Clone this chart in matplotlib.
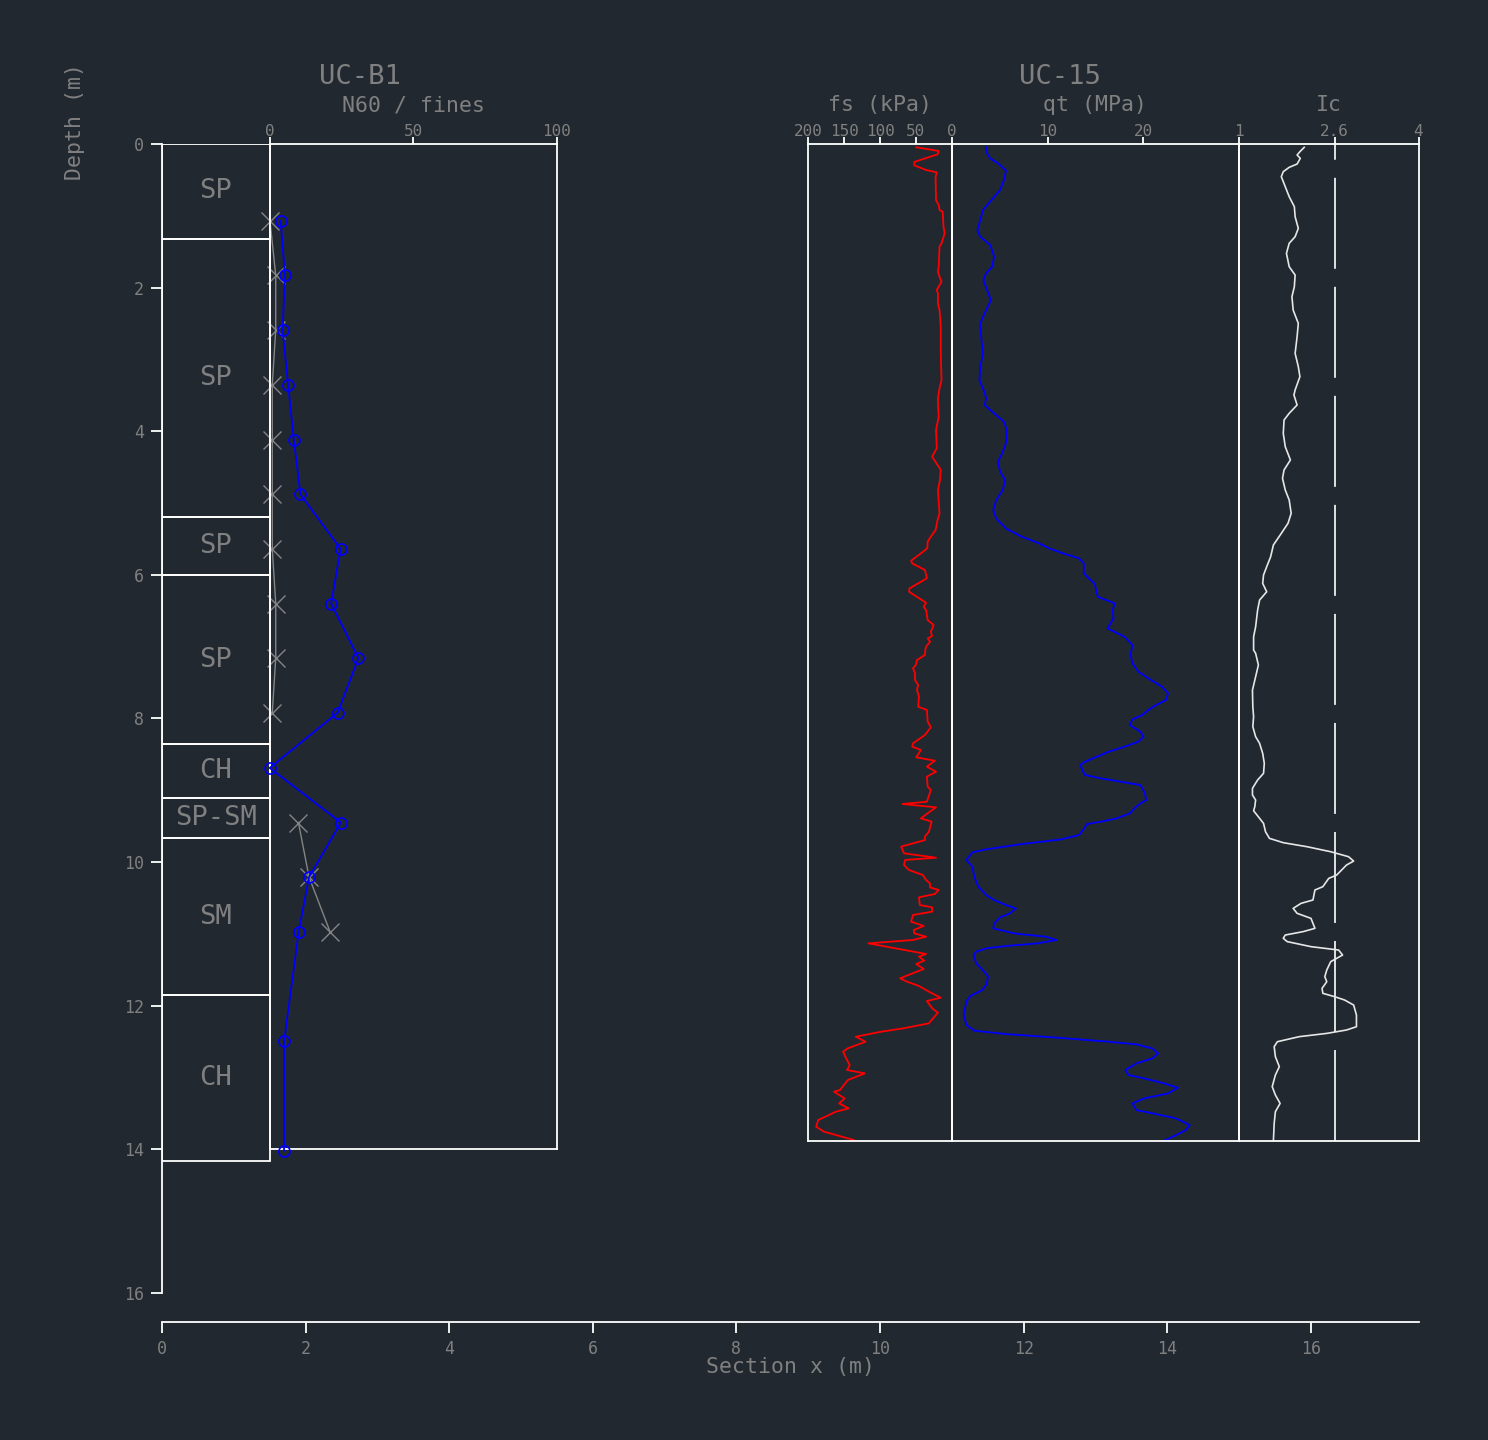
import numpy as np
import matplotlib.pyplot as plt
from matplotlib.patches import Rectangle

plt.rcParams['lines.scale_dashes'] = False

BG = '#212830'
LINE = 'white'
TXT = '#808080'
FONT = 'DejaVu Sans Mono'

# ---- boring UC-B1 ----
layer_top = [0.0, 1.32, 5.2, 6.0, 8.36, 9.11, 9.67, 11.85]
layer_bot = [1.32, 5.2, 6.0, 8.36, 9.11, 9.67, 11.85, 14.17]
layer_name = ['SP', 'SP', 'SP', 'SP', 'CH', 'SP-SM', 'SM', 'CH']

spt_depth = [1.07, 1.83, 2.59, 3.35, 4.12, 4.88, 5.64, 6.40, 7.16, 7.92,
             8.69, 9.45, 10.21, 10.97, 12.50, 14.02]
n60 = [3.8, 5.3, 4.5, 6.4, 8.4, 10.7, 24.7, 21.4, 30.9, 23.7,
       0.0, 24.8, 13.7, 10.1, 5.0, 5.0]
fines = [0.1, 2.1, 2.1, 0.9, 0.9, 0.9, 0.9, 2.1, 2.1, 0.9,
         np.nan, 10.0, 13.7, 21.0, np.nan, np.nan]

# ---- CPT UC-15 ----
fs_depth = [0.046, 0.097, 0.144, 0.25, 0.297, 0.362, 0.395, 0.455, 0.78, 0.85,
            0.92, 0.942, 1.151, 1.244, 1.383, 1.43, 1.709, 1.778, 1.848, 1.917,
            2.034, 2.08, 2.22, 2.312, 2.544, 2.916, 3.287, 3.403, 3.543, 3.612,
            3.798, 3.983, 4.238, 4.355, 4.494, 4.54, 4.68, 4.819, 5.144, 5.237,
            5.376, 5.469, 5.539, 5.631, 5.701, 5.803, 5.841, 5.933, 6.049, 6.12,
            6.19, 6.236, 6.389, 6.445, 6.491, 6.63, 6.7, 6.793, 6.853, 6.886,
            6.932, 7.002, 7.048, 7.117, 7.187, 7.256, 7.303, 7.372, 7.465, 7.535,
            7.604, 7.697, 7.837, 7.883, 8.045, 8.124, 8.231, 8.347, 8.394, 8.44,
            8.542, 8.589, 8.672, 8.742, 8.811, 8.951, 8.997, 9.16, 9.192, 9.239,
            9.322, 9.392, 9.438, 9.578, 9.647, 9.694, 9.786, 9.879, 9.94, 9.972,
            10.042, 10.112, 10.182, 10.252, 10.298, 10.354, 10.39, 10.446, 10.492, 10.599,
            10.631, 10.692, 10.738, 10.831, 10.891, 10.947, 10.994, 11.04, 11.086, 11.133,
            11.281, 11.318, 11.374, 11.421, 11.49, 11.62, 11.667, 11.727, 11.806, 11.89,
            11.936, 12.047, 12.098, 12.247, 12.317, 12.363, 12.433, 12.503, 12.595, 12.642,
            12.758, 12.828, 12.897, 12.944, 13.037, 13.176, 13.199, 13.292, 13.362, 13.432,
            13.478, 13.594, 13.687, 13.756, 13.872]
fs_kpa = [49.6, 18.2, 19.8, 52.3, 52.3, 35.8, 20.9, 22.6, 22.0, 18.2,
          17.1, 12.7, 11.6, 9.9, 14.3, 17.1, 18.2, 19.3, 17.1, 14.3,
          20.9, 19.3, 19.3, 17.1, 15.4, 15.4, 14.3, 17.1, 19.3, 19.3,
          18.2, 22.0, 20.9, 27.5, 18.2, 15.4, 16.5, 19.3, 17.1, 19.8,
          22.6, 29.2, 33.6, 34.1, 43.0, 56.7, 55.1, 37.4, 34.7, 46.8,
          58.9, 59.5, 35.8, 39.1, 35.8, 33.6, 25.3, 29.2, 27.5, 33.6,
          30.3, 35.8, 36.9, 37.4, 48.5, 50.1, 54.0, 51.2, 51.2, 46.8,
          48.5, 45.7, 46.8, 34.7, 33.6, 29.2, 37.4, 54.0, 55.1, 43.0,
          49.6, 23.7, 34.7, 22.0, 34.7, 33.6, 29.2, 34.7, 68.8, 22.0,
          33.6, 43.0, 28.1, 31.9, 37.4, 37.4, 70.5, 66.6, 22.0, 65.0,
          66.6, 59.5, 40.2, 35.8, 30.3, 30.3, 18.2, 23.7, 45.7, 44.6,
          27.5, 27.5, 54.0, 56.7, 39.1, 52.9, 52.3, 35.8, 54.0, 116.2,
          35.8, 45.7, 38.5, 49.6, 39.1, 72.1, 62.2, 45.7, 31.9, 15.4,
          34.7, 26.4, 19.3, 31.9, 67.7, 98.0, 133.8, 120.1, 144.8, 151.4,
          145.9, 142.1, 145.9, 121.2, 144.8, 155.8, 164.1, 149.2, 156.9, 143.7,
          161.4, 186.1, 188.9, 177.9, 136.6]

qt_depth = [0.046, 0.13, 0.2, 0.269, 0.371, 0.501, 0.641, 0.803, 0.919, 1.059,
            1.198, 1.291, 1.407, 1.569, 1.709, 1.801, 1.894, 2.034, 2.173, 2.312,
            2.498, 2.73, 2.916, 3.101, 3.287, 3.45, 3.543, 3.635, 3.751, 3.868,
            3.983, 4.169, 4.308, 4.425, 4.564, 4.68, 4.819, 4.959, 5.098, 5.214,
            5.354, 5.47, 5.553, 5.632, 5.702, 5.772, 5.841, 5.981, 6.129, 6.212,
            6.305, 6.398, 6.491, 6.607, 6.747, 6.863, 6.978, 7.117, 7.233, 7.349,
            7.442, 7.558, 7.651, 7.744, 7.813, 7.883, 7.952, 8.013, 8.092, 8.185,
            8.255, 8.324, 8.394, 8.464, 8.51, 8.603, 8.649, 8.742, 8.788, 8.835,
            8.872, 8.928, 9.021, 9.137, 9.184, 9.253, 9.323, 9.392, 9.439, 9.471,
            9.532, 9.624, 9.685, 9.75, 9.824, 9.866, 9.972, 10.065, 10.205, 10.344,
            10.46, 10.53, 10.599, 10.646, 10.715, 10.771, 10.855, 10.924, 10.994, 11.04,
            11.086, 11.133, 11.17, 11.203, 11.249, 11.296, 11.412, 11.528, 11.597, 11.713,
            11.783, 11.866, 11.945, 12.131, 12.27, 12.349, 12.396, 12.447, 12.503, 12.54,
            12.596, 12.665, 12.735, 12.805, 12.897, 12.967, 13.014, 13.083, 13.144, 13.223,
            13.292, 13.362, 13.455, 13.511, 13.571, 13.664, 13.733, 13.817, 13.882]
qt_mpa = [3.59, 3.68, 4.01, 4.83, 5.66, 5.45, 5.04, 4.01, 3.26, 2.97,
          2.68, 2.97, 4.01, 4.42, 4.21, 3.59, 3.30, 3.68, 4.09, 3.59,
          2.97, 3.10, 3.26, 2.97, 2.89, 3.39, 3.59, 3.43, 4.42, 5.45,
          5.74, 5.66, 5.25, 4.83, 5.04, 5.58, 5.33, 4.63, 4.34, 4.63,
          5.66, 7.31, 8.96, 10.20, 11.65, 13.30, 13.79, 13.79, 14.95, 15.07,
          15.24, 17.02, 16.81, 16.89, 16.27, 18.05, 18.87, 18.67, 18.87, 19.49,
          20.53, 21.97, 22.59, 22.38, 21.35, 20.53, 19.91, 18.87, 18.59, 19.70,
          20.03, 19.49, 18.05, 16.40, 15.57, 13.92, 13.42, 13.71, 13.92, 15.57,
          17.22, 19.70, 20.11, 20.32, 19.70, 19.08, 18.59, 17.22, 15.57, 14.12,
          13.84, 13.30, 11.44, 7.31, 3.59, 2.15, 1.53, 2.15, 2.35, 2.77,
          3.59, 4.42, 5.66, 6.69, 6.07, 5.04, 4.42, 4.34, 6.48, 9.79,
          10.94, 8.96, 5.66, 3.59, 2.56, 2.27, 2.56, 3.39, 3.80, 3.59,
          3.18, 1.94, 1.53, 1.24, 1.53, 2.35, 5.66, 11.03, 16.40, 19.29,
          20.94, 21.56, 20.94, 19.29, 18.13, 18.46, 20.11, 22.18, 23.62, 22.59,
          20.11, 18.87, 19.29, 21.35, 23.42, 24.86, 24.45, 23.21, 22.18]

ic_depth = [0.046, 0.107, 0.153, 0.2, 0.279, 0.325, 0.385, 0.455, 0.594, 0.734,
            0.873, 1.012, 1.175, 1.291, 1.383, 1.523, 1.709, 1.825, 1.987, 2.126,
            2.312, 2.498, 2.683, 2.916, 3.101, 3.24, 3.426, 3.496, 3.635, 3.751,
            3.844, 4.03, 4.215, 4.401, 4.54, 4.656, 4.819, 4.959, 5.144, 5.283,
            5.423, 5.585, 5.748, 5.887, 6.003, 6.12, 6.236, 6.352, 6.491, 6.723,
            6.863, 7.048, 7.094, 7.256, 7.419, 7.605, 7.837, 7.976, 8.115, 8.255,
            8.347, 8.487, 8.626, 8.765, 8.858, 8.974, 9.067, 9.137, 9.23, 9.286,
            9.392, 9.462, 9.578, 9.671, 9.731, 9.787, 9.857, 9.926, 9.987, 10.042,
            10.182, 10.228, 10.344, 10.39, 10.529, 10.576, 10.646, 10.715, 10.785, 10.924,
            10.97, 11.017, 11.063, 11.109, 11.179, 11.226, 11.296, 11.342, 11.388, 11.504,
            11.597, 11.667, 11.76, 11.829, 11.876, 11.922, 11.992, 12.131, 12.294, 12.34,
            12.387, 12.433, 12.503, 12.572, 12.711, 12.851, 12.967, 13.129, 13.245, 13.362,
            13.478, 13.64, 13.882]
ic = [2.090, 2.018, 1.971, 2.024, 1.971, 1.839, 1.740, 1.707, 1.773, 1.839,
      1.925, 1.938, 1.991, 1.938, 1.839, 1.793, 1.839, 1.938, 1.925, 1.885,
      1.905, 1.991, 1.971, 1.938, 1.991, 2.018, 1.938, 1.918, 1.971, 1.839,
      1.753, 1.740, 1.773, 1.859, 1.753, 1.727, 1.773, 1.839, 1.872, 1.819,
      1.707, 1.575, 1.529, 1.463, 1.410, 1.396, 1.463, 1.344, 1.311, 1.278,
      1.244, 1.244, 1.278, 1.324, 1.278, 1.225, 1.231, 1.244, 1.231, 1.278,
      1.344, 1.396, 1.423, 1.410, 1.311, 1.225, 1.225, 1.278, 1.264, 1.244,
      1.344, 1.410, 1.443, 1.509, 1.740, 2.137, 2.533, 2.830, 2.916, 2.797,
      2.632, 2.500, 2.401, 2.269, 2.236, 2.037, 1.905, 1.971, 2.203, 2.269,
      2.071, 1.773, 1.740, 1.806, 2.203, 2.665, 2.731, 2.632, 2.533, 2.467,
      2.434, 2.467, 2.388, 2.401, 2.599, 2.764, 2.916, 2.963, 2.963, 2.797,
      2.467, 2.004, 1.641, 1.588, 1.608, 1.674, 1.608, 1.555, 1.608, 1.687,
      1.608, 1.588, 1.575]
ic_limit = 2.6

# ---- drawing layout (metres in the section drawing) ----
PX = 71.8            # pixels per metre
W, H = 1488, 1440
X0, Y0 = 162, 144    # pixel of section x = 0, depth = 0


def place(x0, x1, d0, d1):
    return [(X0 + PX * x0) / W, 1 - (Y0 + PX * d1) / H,
            PX * (x1 - x0) / W, PX * (d1 - d0) / H]


def style_top(ax, ticks, labels=None):
    ax.set_facecolor('none')
    ax.xaxis.set_ticks_position('top')
    ax.set_xticks(ticks)
    if labels is not None:
        ax.set_xticklabels(labels)
    ax.set_yticks([])
    ax.tick_params(axis='x', direction='out', length=5, width=1.3, color=LINE,
                   labelcolor=TXT, labelsize=11.5, pad=-1.5)
    for lab in ax.get_xticklabels():
        lab.set_family(FONT)
    for s in ax.spines.values():
        s.set_color(LINE)
        s.set_linewidth(1.3)


fig = plt.figure(figsize=(14.88, 14.4), dpi=100, facecolor=BG)

# frame: depth axis + section axis
ax = fig.add_axes(place(0, 17.5, 0, 16.4))
ax.set_facecolor('none')
ax.set_xlim(0, 17.5)
ax.set_ylim(16.4, 0)
ax.spines['top'].set_visible(False)
ax.spines['right'].set_visible(False)
ax.spines['left'].set_bounds(0, 16)
for s in ['left', 'bottom']:
    ax.spines[s].set_color(LINE)
    ax.spines[s].set_linewidth(1.3)
ax.set_xticks(np.arange(0, 17, 2))
ax.set_yticks(np.arange(0, 17, 2))
ax.tick_params(direction='out', length=8, width=1.3, color=LINE,
               labelcolor=TXT, labelsize=12, pad=5)
for lab in ax.get_xticklabels() + ax.get_yticklabels():
    lab.set_family(FONT)

# boring log
for top, bot, name in zip(layer_top, layer_bot, layer_name):
    ax.add_patch(Rectangle((0, top), 1.5, bot - top, fill=False,
                           edgecolor=LINE, lw=1.3))
    ax.text(0.75, (top + bot) / 2, name, ha='center', va='center',
            color=TXT, fontsize=19.5, family=FONT)

tkw = dict(ha='center', va='center', color=TXT, family=FONT, clip_on=False)
ax.text(-1.21, -0.31, 'Depth (m)', rotation=90, fontsize=15.5, **tkw)
ax.text(8.75, 17.03, 'Section x (m)', fontsize=15.5, **tkw)
ax.text(2.75, -0.93, 'UC-B1', fontsize=19.5, **tkw)
ax.text(3.5, -0.54, 'N60 / fines', fontsize=15.5, **tkw)
ax.text(12.5, -0.93, 'UC-15', fontsize=19.5, **tkw)
ax.text(10.0, -0.54, 'fs (kPa)', fontsize=15.5, **tkw)
ax.text(13.0, -0.54, 'qt (MPa)', fontsize=15.5, **tkw)
ax.text(16.25, -0.54, 'Ic', fontsize=15.5, **tkw)

# N60 / fines panel
axn = fig.add_axes(place(1.5, 5.5, 0, 14.0))
axn.set_xlim(0, 100)
axn.set_ylim(14.0, 0)
style_top(axn, [0, 50, 100])
axn.plot(fines, spt_depth, color='#858585', lw=1.0, marker='x', ms=13,
         mew=1.0, clip_on=False, zorder=2)
axn.plot(n60, spt_depth, color='#0000ff', lw=1.3, marker='o', ms=8,
         mfc='none', mec='#0000ff', mew=1.2, clip_on=False, zorder=3)

# CPT panels
cpt_bot = 13.88
axf = fig.add_axes(place(9, 11, 0, cpt_bot))
axf.set_xlim(200, 0)
axf.set_ylim(cpt_bot, 0)
style_top(axf, [200, 150, 100, 50, 0])
axf.plot(fs_kpa, fs_depth, color='#ff0000', lw=1.3)

axq = fig.add_axes(place(11, 15, 0, cpt_bot))
axq.set_xlim(0, 30)
axq.set_ylim(cpt_bot, 0)
style_top(axq, [10, 20])
axq.plot(qt_mpa, qt_depth, color='#0000ff', lw=1.3)

axi = fig.add_axes(place(15, 17.5, 0, cpt_bot))
axi.set_xlim(1, 4)
axi.set_ylim(cpt_bot, 0)
style_top(axi, [1, 2.6, 4], ['1', '2.6', '4'])
axi.plot([ic_limit, ic_limit], [cpt_bot, 0], color=LINE, lw=1.2,
         dashes=(65.5, 13))
axi.plot(ic, ic_depth, color='#e6e6e6', lw=1.2)

fig.savefig('out.png', dpi=100, facecolor=BG)
